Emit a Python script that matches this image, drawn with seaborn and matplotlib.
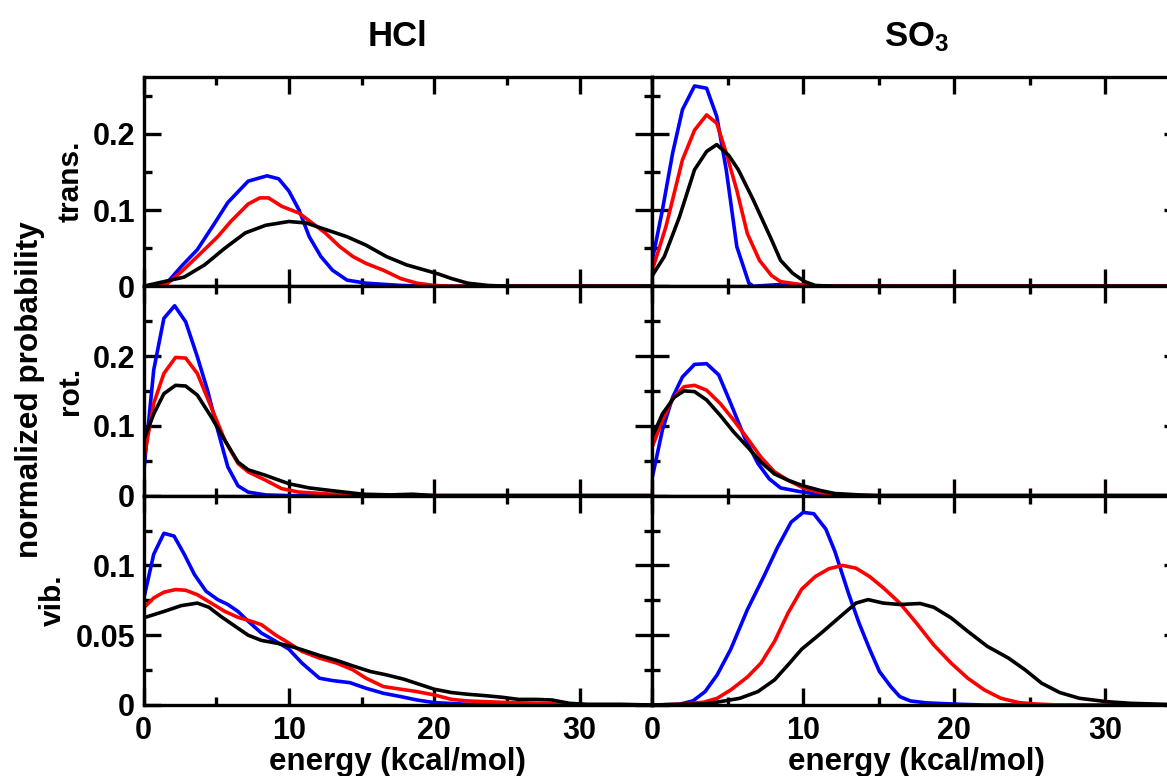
import matplotlib
matplotlib.use("Agg")
import matplotlib.pyplot as plt
import seaborn as sns
from matplotlib.ticker import FuncFormatter

sns.set_style("ticks")
plt.rcParams["font.family"] = ["Liberation Sans", "DejaVu Sans"]
plt.rcParams["font.weight"] = "bold"
plt.rcParams["mathtext.fontset"] = "custom"
plt.rcParams["mathtext.rm"] = "Liberation Sans:bold"
plt.rcParams["mathtext.bf"] = "Liberation Sans:bold"
plt.rcParams["mathtext.default"] = "bf"
for key in ["text.color", "axes.labelcolor", "xtick.color", "ytick.color", "axes.edgecolor"]:
    plt.rcParams[key] = "black"

# ---------------------------
# Data (energy in kcal/mol, normalized probability)
# ---------------------------
species = ["HCl", "SO$_3$"]
modes = ["trans.", "rot.", "vib."]
colors = ["#0000ff", "#ff0000", "#000000"]

# HCl, translational
hcl_trans_blue_x = [0, 1.5, 2.6, 3.7, 4.9, 5.8, 7.2, 8.5, 9.3, 10, 10.7, 11.4, 12.2, 13, 14, 15.3, 17.7, 20, 35]
hcl_trans_blue_y = [0, 0.002, 0.026, 0.048, 0.083, 0.11, 0.138, 0.145, 0.141, 0.125, 0.10, 0.065, 0.039, 0.021, 0.008, 0.004, 0.001, 0, 0]
hcl_trans_red_x = [0, 1.6, 2.6, 3.7, 5.1, 6, 7.2, 8, 8.6, 9.5, 10.7, 11.6, 12.5, 13.5, 14.4, 15.3, 16.5, 17.7, 18.8, 20, 21.2, 35]
hcl_trans_red_y = [0, 0.003, 0.019, 0.039, 0.065, 0.085, 0.108, 0.116, 0.116, 0.105, 0.096, 0.083, 0.070, 0.052, 0.039, 0.030, 0.021, 0.010, 0.004, 0.001, 0, 0]
hcl_trans_black_x = [0, 1.4, 2.8, 4.2, 5.6, 7, 8.4, 10, 11.2, 12.6, 14, 15.3, 16.7, 18.1, 19.2, 20.3, 21.2, 22.3, 23.7, 25, 35]
hcl_trans_black_y = [0, 0.006, 0.012, 0.028, 0.05, 0.070, 0.080, 0.085, 0.083, 0.074, 0.065, 0.054, 0.039, 0.028, 0.022, 0.016, 0.010, 0.004, 0.001, 0, 0]

# SO3, translational
so3_trans_blue_x = [0, 0.67, 1.35, 2.0, 2.8, 3.6, 4.27, 4.9, 5.6, 6.4, 6.7, 8.3, 9.2, 10, 35]
so3_trans_blue_y = [0.034, 0.1, 0.175, 0.232, 0.263, 0.260, 0.223, 0.153, 0.052, 0.004, 0, 0.002, 0.001, 0, 0]
so3_trans_red_x = [0, 0.9, 2, 2.8, 3.6, 4.27, 4.9, 5.6, 6.3, 7.1, 7.9, 8.5, 9.9, 11, 35]
so3_trans_red_y = [0.021, 0.078, 0.166, 0.205, 0.225, 0.214, 0.175, 0.126, 0.069, 0.034, 0.014, 0.006, 0.002, 0, 0]
so3_trans_black_x = [0, 0.8, 1.8, 2.8, 3.6, 4.27, 5.06, 5.7, 6.7, 7.9, 8.5, 9.3, 10.1, 10.8, 12, 35]
so3_trans_black_y = [0.014, 0.039, 0.091, 0.153, 0.177, 0.186, 0.172, 0.153, 0.113, 0.061, 0.034, 0.017, 0.006, 0.001, 0, 0]

# HCl, rotational
hcl_rot_blue_x = [0, 0.7, 1.4, 2.14, 2.9, 3.7, 4.4, 5.1, 5.8, 6.5, 7.2, 8.4, 10, 35]
hcl_rot_blue_y = [0.031, 0.18, 0.254, 0.272, 0.249, 0.199, 0.151, 0.094, 0.041, 0.014, 0.005, 0.001, 0, 0]
hcl_rot_red_x = [0, 0.7, 1.4, 2.2, 2.9, 3.7, 4.65, 5.6, 6.5, 7.2, 8.4, 9.5, 10.7, 13, 16, 35]
hcl_rot_red_y = [0.05, 0.132, 0.175, 0.198, 0.197, 0.175, 0.127, 0.079, 0.046, 0.034, 0.022, 0.010, 0.005, 0.002, 0, 0]
hcl_rot_black_x = [0, 0.7, 1.4, 2.2, 2.9, 3.7, 4.65, 5.6, 6.5, 7.2, 8.4, 10, 11.4, 13, 15.1, 17, 18.5, 20, 35]
hcl_rot_black_y = [0.079, 0.117, 0.146, 0.158, 0.157, 0.144, 0.113, 0.079, 0.048, 0.037, 0.029, 0.017, 0.011, 0.007, 0.002, 0.001, 0.002, 0, 0]

# SO3, rotational
so3_rot_blue_x = [0, 0.67, 1.35, 2.0, 2.8, 3.6, 4.4, 5.2, 6.1, 7.0, 7.75, 8.5, 9.7, 11, 13, 35]
so3_rot_blue_y = [0.026, 0.094, 0.141, 0.170, 0.188, 0.189, 0.173, 0.132, 0.084, 0.046, 0.024, 0.011, 0.006, 0.002, 0, 0]
so3_rot_red_x = [0, 0.67, 1.35, 2.1, 2.8, 3.6, 4.5, 5.4, 6.3, 7.2, 8.1, 9.0, 10, 11.2, 12.6, 14, 35]
so3_rot_red_y = [0.07, 0.108, 0.139, 0.156, 0.158, 0.151, 0.132, 0.108, 0.082, 0.055, 0.034, 0.022, 0.011, 0.004, 0.001, 0, 0]
so3_rot_black_x = [0, 0.67, 1.46, 2.1, 2.8, 3.6, 4.5, 5.4, 6.3, 7.2, 8.1, 9.0, 10, 11.2, 12.1, 13.7, 15, 35]
so3_rot_black_y = [0.084, 0.117, 0.141, 0.150, 0.149, 0.137, 0.115, 0.091, 0.070, 0.048, 0.031, 0.022, 0.014, 0.007, 0.003, 0.001, 0, 0]

# HCl, vibrational
hcl_vib_blue_x = [0, 0.7, 1.4, 2.1, 2.8, 3.5, 4.3, 5.1, 5.8, 6.5, 7.2, 8.1, 9.1, 10, 10.9, 12.1, 13, 14.2, 15.3, 16.5, 17.7, 18.8, 20, 22.3, 24, 35]
hcl_vib_blue_y = [0.0755, 0.108, 0.123, 0.121, 0.108, 0.0935, 0.0815, 0.0755, 0.072, 0.067, 0.060, 0.0516, 0.0456, 0.040, 0.030, 0.0192, 0.0175, 0.016, 0.012, 0.0084, 0.006, 0.0036, 0.0017, 0.0005, 0, 0]
hcl_vib_red_x = [0, 0.7, 1.4, 2.2, 2.9, 3.7, 4.65, 5.6, 6.5, 7.4, 8.1, 9.1, 10, 10.9, 12.1, 13.3, 14.4, 15.3, 16.5, 17.7, 18.8, 20, 21.2, 22.3, 24.7, 27, 29.3, 31, 35]
hcl_vib_red_y = [0.0695, 0.0767, 0.0808, 0.0827, 0.0822, 0.079, 0.073, 0.067, 0.0628, 0.060, 0.0576, 0.050, 0.0444, 0.0384, 0.0336, 0.030, 0.0252, 0.0192, 0.0132, 0.0113, 0.0096, 0.0072, 0.004, 0.0029, 0.0019, 0.0012, 0.0005, 0, 0]
hcl_vib_black_x = [0, 1.4, 2.6, 3.7, 4.5, 5.3, 6.3, 7.2, 8.1, 9.1, 10, 10.9, 12.1, 13.3, 14.4, 15.6, 16.7, 17.9, 19.1, 20, 21.2, 22.3, 23.5, 24.7, 25.8, 27, 28.1, 29.3, 30.5, 32.8, 35]
hcl_vib_black_y = [0.0624, 0.067, 0.0712, 0.073, 0.070, 0.0636, 0.0564, 0.050, 0.0463, 0.0444, 0.0424, 0.0396, 0.0355, 0.0319, 0.028, 0.024, 0.0216, 0.0185, 0.0144, 0.0113, 0.0089, 0.0077, 0.0067, 0.0055, 0.004, 0.004, 0.0036, 0.0012, 0.0005, 0.0005, 0]

# SO3, vibrational
so3_vib_blue_x = [0, 1.8, 2.7, 3.5, 4.3, 5.2, 6.3, 7.4, 8.3, 9.2, 10, 10.7, 11.5, 12.1, 13, 13.7, 14.4, 15.05, 15.8, 16.4, 17.1, 18.2, 20.4, 22, 35]
so3_vib_blue_y = [0, 0.0005, 0.003, 0.0096, 0.0216, 0.040, 0.0683, 0.0923, 0.113, 0.131, 0.138, 0.137, 0.126, 0.110, 0.080, 0.0587, 0.040, 0.024, 0.0132, 0.006, 0.0029, 0.0015, 0.0005, 0, 0]
so3_vib_red_x = [0, 2, 3.4, 4.3, 5.2, 6.3, 7.2, 8.1, 9.0, 9.9, 10.8, 11.7, 12.6, 13.5, 14.4, 15.3, 16.4, 17.5, 18.65, 19.8, 20.9, 22, 23.1, 24.3, 25.4, 27, 35]
so3_vib_red_y = [0, 0.0005, 0.002, 0.0048, 0.0108, 0.020, 0.030, 0.0456, 0.066, 0.083, 0.092, 0.0976, 0.100, 0.098, 0.092, 0.084, 0.073, 0.0587, 0.043, 0.030, 0.0192, 0.0108, 0.0048, 0.0017, 0.0007, 0, 0]
so3_vib_black_x = [0, 3.5, 4.5, 5.8, 7.0, 8.1, 9.0, 9.9, 11.2, 12.6, 13.5, 14.3, 15.3, 16.4, 17.75, 18.65, 19.8, 20.9, 22.2, 23.6, 24.7, 25.8, 27, 28.3, 30.1, 31.7, 33.9, 35]
so3_vib_black_y = [0, 0.0008, 0.0024, 0.0048, 0.0096, 0.018, 0.0288, 0.040, 0.0516, 0.0647, 0.073, 0.0755, 0.073, 0.072, 0.0727, 0.070, 0.0624, 0.0528, 0.042, 0.0336, 0.0252, 0.0156, 0.0089, 0.0048, 0.0024, 0.0012, 0.0005, 0.0002]

curves = {
    (0, 0): [(hcl_trans_blue_x, hcl_trans_blue_y), (hcl_trans_red_x, hcl_trans_red_y), (hcl_trans_black_x, hcl_trans_black_y)],
    (0, 1): [(so3_trans_blue_x, so3_trans_blue_y), (so3_trans_red_x, so3_trans_red_y), (so3_trans_black_x, so3_trans_black_y)],
    (1, 0): [(hcl_rot_blue_x, hcl_rot_blue_y), (hcl_rot_red_x, hcl_rot_red_y), (hcl_rot_black_x, hcl_rot_black_y)],
    (1, 1): [(so3_rot_blue_x, so3_rot_blue_y), (so3_rot_red_x, so3_rot_red_y), (so3_rot_black_x, so3_rot_black_y)],
    (2, 0): [(hcl_vib_blue_x, hcl_vib_blue_y), (hcl_vib_red_x, hcl_vib_red_y), (hcl_vib_black_x, hcl_vib_black_y)],
    (2, 1): [(so3_vib_blue_x, so3_vib_blue_y), (so3_vib_red_x, so3_vib_red_y), (so3_vib_black_x, so3_vib_black_y)],
}

row_ylim = [0.275, 0.30, 0.15]
row_major = [[0, 0.1, 0.2], [0, 0.1, 0.2], [0, 0.05, 0.1]]
row_minor = [[0.05, 0.15, 0.25], [0.05, 0.15, 0.25], [0.025, 0.075, 0.125]]
x_major = [0, 10, 20, 30]
x_minor = [5, 15, 25, 35]

# ---------------------------
# Figure
# ---------------------------
fig, axes = plt.subplots(
    3, 2, figsize=(11.67, 7.76), dpi=100,
    gridspec_kw=dict(width_ratios=[508.5, 528], wspace=0, hspace=0,
                     left=0.123, right=1.0116, top=0.901, bottom=0.0915),
)

fmt = FuncFormatter(lambda v, p: "%g" % v)

for r in range(3):
    for c in range(2):
        ax = axes[r, c]
        for (xs, ys), col in zip(curves[(r, c)], colors):
            sns.lineplot(x=xs, y=ys, ax=ax, color=col, linewidth=2.6,
                         estimator=None, sort=False)
        ax.set_xlim(0, 35)
        ax.set_ylim(0, row_ylim[r])
        ax.set_xticks(x_major)
        ax.set_xticks(x_minor, minor=True)
        ax.set_yticks(row_major[r])
        ax.set_yticks(row_minor[r], minor=True)
        ax.yaxis.set_major_formatter(fmt)
        ax.tick_params(which="both", direction="in", top=True, right=True,
                       width=2.4, labelsize=22, colors="black")
        ax.tick_params(which="major", length=12)
        ax.tick_params(which="minor", length=6)
        ax.tick_params(axis="x", pad=8)
        ax.tick_params(axis="y", pad=6)
        for s in ax.spines.values():
            s.set_linewidth(2.4)
            s.set_color("black")
        if c == 1:
            ax.tick_params(labelleft=False)
        else:
            ax.set_ylabel(modes[r], fontsize=21.5, fontweight="bold", labelpad=6)
        if r < 2:
            ax.tick_params(labelbottom=False)
        else:
            ax.set_xlabel("energy (kcal/mol)", fontsize=22.5, fontweight="bold", labelpad=1)
        if r == 0:
            ax.set_title(species[c], fontsize=25, fontweight="bold", pad=22)

fig.text(30 / 1167, 1 - 390 / 776, "normalized probability", rotation=90,
         ha="center", va="center", fontsize=22.7, fontweight="bold")

plt.savefig("out.png", dpi=100)
plt.close()
